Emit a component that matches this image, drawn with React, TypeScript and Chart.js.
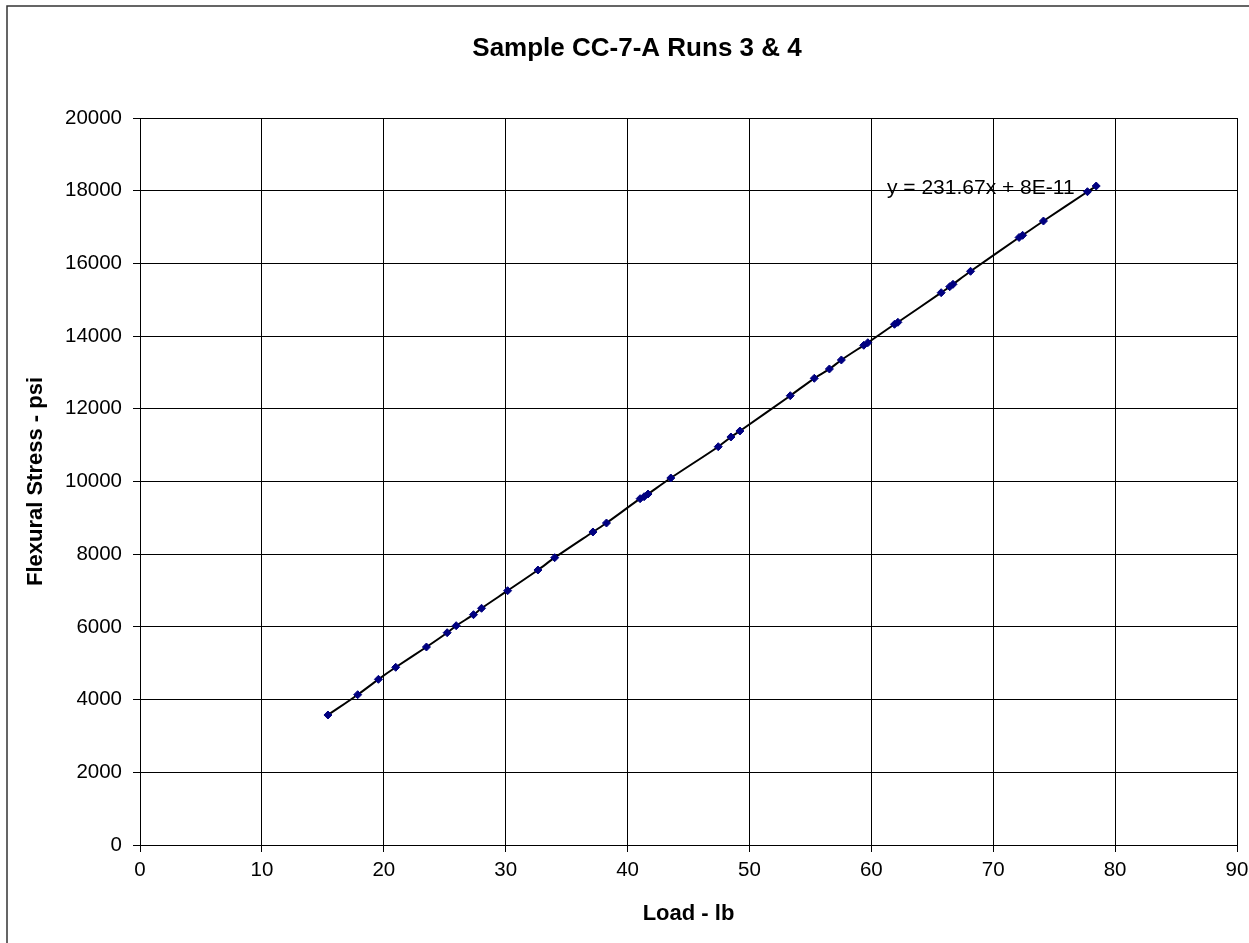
import React, { useEffect, useRef } from "react";
import { Chart, registerables } from "chart.js";

Chart.register(...registerables);

// Load (lb) and flexural stress (psi)
const loadLb: number[] = [
  15.42, 17.86, 19.56, 20.98, 23.5, 25.2, 25.94, 27.36, 28.02, 30.16, 32.65,
  34.02, 37.16, 38.27, 41.03, 41.36, 41.68, 43.55, 47.44, 48.48, 49.22, 53.35,
  55.32, 56.56, 57.54, 59.38, 59.71, 61.9, 62.18, 65.73, 66.43, 66.7, 68.14,
  72.12, 72.41, 74.12, 77.73, 78.45,
];
const stressPsi: number[] = [
  3576, 4135, 4558, 4889, 5447, 5840, 6033, 6336, 6512, 6996, 7565, 7904, 8611,
  8858, 9527, 9582, 9656, 10096, 10957, 11224, 11389, 12360, 12839, 13095,
  13343, 13747, 13818, 14325, 14380, 15194, 15359, 15425, 15783, 16713, 16773,
  17166, 17972, 18129,
];

const chartTitle = "Sample CC-7-A Runs 3 & 4";
const xTitle = "Load - lb";
const yTitle = "Flexural Stress - psi";
const trendLabel = "y = 231.67x + 8E-11";

const FONT = "'Liberation Sans', Arial, sans-serif";

export default function App() {
  const ref = useRef<HTMLCanvasElement | null>(null);

  useEffect(() => {
    document.body.style.margin = "0";
    const canvas = ref.current;
    if (!canvas) return;

    const decor = {
      id: "decor",
      beforeDraw(chart: any) {
        const ctx = chart.ctx;
        ctx.save();
        ctx.fillStyle = "#ffffff";
        ctx.fillRect(0, 0, chart.width, chart.height);
        ctx.strokeStyle = "#333333";
        ctx.lineWidth = 1.5;
        ctx.strokeRect(7, 6, 1400, 1400);
        ctx.restore();
      },
      afterDraw(chart: any) {
        const ctx = chart.ctx;
        const ca = chart.chartArea;
        ctx.save();
        ctx.fillStyle = "#000000";
        ctx.font = `bold 26px ${FONT}`;
        ctx.textAlign = "center";
        ctx.textBaseline = "alphabetic";
        ctx.fillText(chartTitle, 637, 56);
        ctx.font = `21px ${FONT}`;
        ctx.textAlign = "left";
        ctx.fillText(trendLabel, ca.left + 747, ca.top + 76);
        ctx.restore();
      },
    };

    const chart = new Chart(canvas, {
      type: "line",
      data: {
        datasets: [
          {
            label: "Runs 3 & 4",
            data: loadLb.map((x, i) => ({ x, y: stressPsi[i] })),
            borderColor: "#000000",
            borderWidth: 2,
            tension: 0.3,
            pointStyle: "rectRot",
            pointRadius: 4,
            pointBackgroundColor: "#000080",
            pointBorderColor: "#000080",
            pointBorderWidth: 1,
            fill: false,
          },
        ],
      },
      options: {
        responsive: false,
        animation: false,
        devicePixelRatio: 1,
        layout: {
          autoPadding: false,
          padding: { top: 118, right: 12, left: 0, bottom: 0 },
        },
        plugins: {
          legend: { display: false },
          title: { display: false },
          tooltip: { enabled: false },
        },
        scales: {
          x: {
            type: "linear",
            min: 0,
            max: 90,
            afterFit: (s: any) => {
              s.height = 98;
              s.paddingLeft = 0;
              s.paddingRight = 0;
            },
            ticks: {
              stepSize: 10,
              color: "#000000",
              font: { family: FONT, size: 20.5 },
              padding: 6,
              maxRotation: 0,
              callback: (v: any) => String(v),
            },
            grid: {
              color: "#000000",
              lineWidth: 1,
              tickLength: 7,
              tickColor: "#000000",
            },
            border: { color: "#000000", width: 1 },
            title: {
              display: true,
              text: xTitle,
              color: "#000000",
              font: { family: FONT, size: 22, weight: "bold" },
              padding: { top: 0, bottom: 16 },
            },
          },
          y: {
            type: "linear",
            min: 0,
            max: 20000,
            afterFit: (s: any) => {
              s.width = 140;
              s.paddingTop = 0;
              s.paddingBottom = 0;
            },
            ticks: {
              stepSize: 2000,
              color: "#000000",
              font: { family: FONT, size: 20.5 },
              padding: 11,
              callback: (v: any) => String(v),
            },
            grid: {
              color: "#000000",
              lineWidth: 1,
              tickLength: 7,
              tickColor: "#000000",
            },
            border: { color: "#000000", width: 1 },
            title: {
              display: true,
              text: yTitle,
              color: "#000000",
              font: { family: FONT, size: 22, weight: "bold" },
              padding: { top: 23, bottom: 0 },
            },
          },
        },
      },
      plugins: [decor],
    });

    return () => chart.destroy();
  }, []);

  return (
    <div style={{ width: 1249, height: 943 }}>
      <canvas ref={ref} width={1249} height={943} style={{ display: "block" }} />
    </div>
  );
}
